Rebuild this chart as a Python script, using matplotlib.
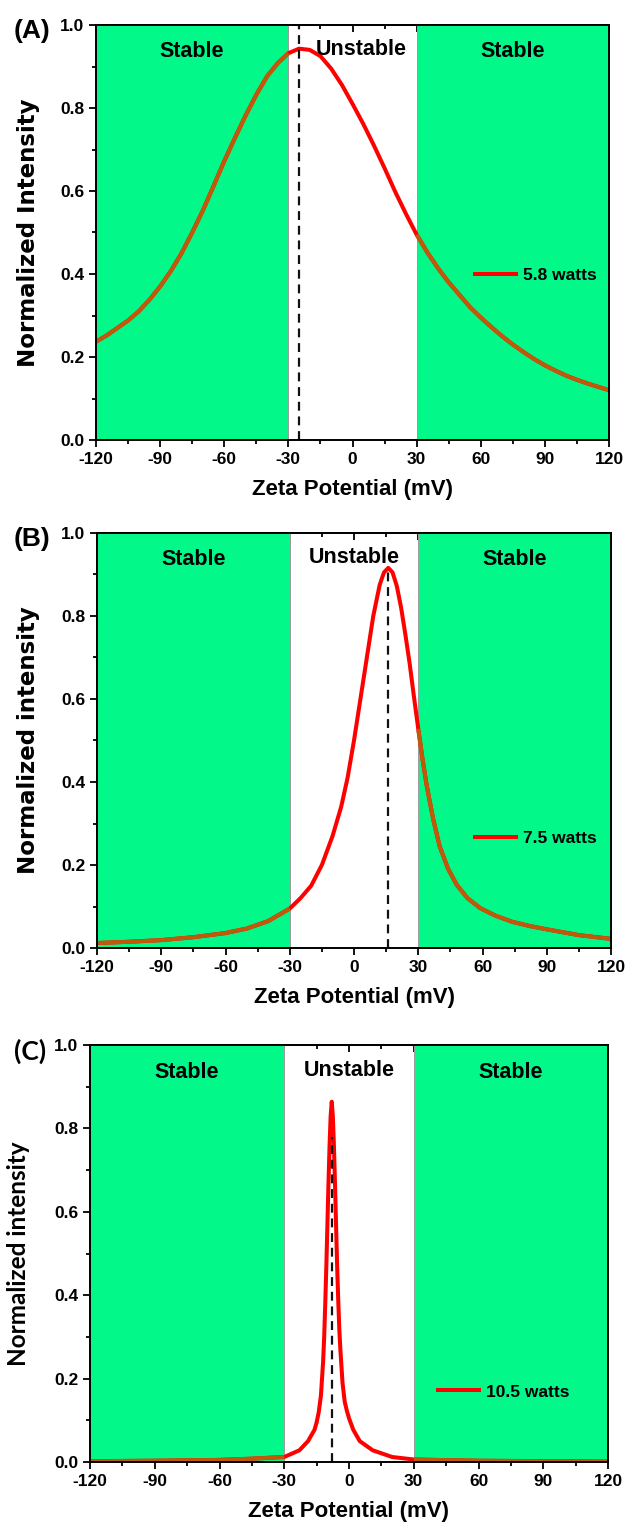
import numpy as np
import matplotlib
matplotlib.use("Agg")
import matplotlib.pyplot as plt
from matplotlib.patches import Rectangle
from matplotlib.ticker import MultipleLocator

plt.rcParams['font.family'] = ['Liberation Sans', 'DejaVu Sans']
plt.rcParams['font.weight'] = 'bold'

# ---- data ----
za_x = [-120, -115, -110, -105, -100, -95, -90, -85, -80, -75, -70, -65, -60, -55,
        -50, -45, -40, -35, -30, -25, -20, -15, -10, -5, 0, 5, 10, 15, 20, 25, 30,
        35, 40, 45, 50, 55, 60, 65, 70, 75, 80, 85, 90, 95, 100, 105, 110, 115, 120]
za_y = [0.237, 0.252, 0.27, 0.288, 0.31, 0.338, 0.37, 0.407, 0.45, 0.5, 0.553,
        0.612, 0.672, 0.728, 0.782, 0.832, 0.876, 0.908, 0.932, 0.943, 0.94, 0.925,
        0.895, 0.856, 0.81, 0.762, 0.71, 0.655, 0.598, 0.545, 0.495, 0.452, 0.414,
        0.38, 0.35, 0.32, 0.295, 0.272, 0.25, 0.23, 0.212, 0.195, 0.18, 0.167,
        0.155, 0.145, 0.136, 0.128, 0.12]

zb_x = [-120, -105, -90, -75, -60, -50, -40, -30, -25, -20, -15, -10, -6, -3, 0,
        3, 6, 9, 12, 14, 16, 18, 20, 22, 24, 26, 28, 30, 32, 34, 37, 40, 44, 48,
        53, 59, 66, 74, 82, 90, 105, 120]
zb_y = [0.012, 0.015, 0.019, 0.026, 0.036, 0.047, 0.065, 0.095, 0.12, 0.15, 0.2,
        0.27, 0.34, 0.41, 0.5, 0.6, 0.7, 0.8, 0.875, 0.905, 0.916, 0.905, 0.872,
        0.82, 0.755, 0.685, 0.605, 0.528, 0.455, 0.39, 0.31, 0.245, 0.19, 0.152,
        0.12, 0.096, 0.078, 0.063, 0.053, 0.045, 0.031, 0.022]

zc_x = [-120, -90, -60, -45, -30, -23, -19, -16, -15, -14, -13, -12, -11.5, -11,
        -10.5, -10, -9.5, -9, -8.5, -8, -7.5, -7, -6.5, -6, -5.5, -5, -4.5, -4, -3,
        -2, -1, 0, 2, 5, 11, 20, 30, 60, 90, 120]
zc_y = [0.002, 0.003, 0.005, 0.008, 0.012, 0.028, 0.05, 0.077, 0.095, 0.12, 0.16,
        0.24, 0.3, 0.38, 0.47, 0.57, 0.67, 0.76, 0.83, 0.864, 0.83, 0.76, 0.67, 0.57,
        0.47, 0.39, 0.32, 0.27, 0.19, 0.145, 0.123, 0.105, 0.077, 0.05, 0.028,
        0.012, 0.006, 0.003, 0.002, 0.001]

peaks = [-25, 16, -8]
dash_tops = [1.0, 0.91, 0.78]
powers = ['5.8 watts', '7.5 watts', '10.5 watts']
panel_tags = ['(A)', '(B)', '(C)']
ylabels = ['Normalized Intensity', 'Normalized intensity', 'Normalized intensity']
stable_lim = 30

GREEN = '#02F98A'
RED = '#FF0000'
BROWN = '#BE5A0A'

W, H = 629, 1534
fig = plt.figure(figsize=(W / 100, H / 100), dpi=100)

# axes boxes in pixels: left, top, right, bottom
boxes = [(96, 25, 609, 440), (97, 533, 611, 948), (90, 1045, 608, 1462)]
legend_pos = [(0.734, 0.396), (0.731, 0.265), (0.668, 0.168)]
label_x = [-0.11, -0.11, -0.115]
series = [(za_x, za_y), (zb_x, zb_y), (zc_x, zc_y)]
ticks_x = list(range(-120, 121, 30))
ticks_y = [0.0, 0.2, 0.4, 0.6, 0.8, 1.0]

for i, (l, t, r, b) in enumerate(boxes):
    ax = fig.add_axes([l / W, 1 - b / H, (r - l) / W, (b - t) / H])
    x = np.array(series[i][0])
    y = np.array(series[i][1])

    # shaded stable regions
    for x0, x1 in [(-120, -stable_lim), (stable_lim, 120)]:
        ax.add_patch(Rectangle((x0, 0), x1 - x0, 1, facecolor=GREEN,
                               edgecolor='#9a9a9a', lw=0.7, zorder=1))

    ax.plot(x, y, color=RED, lw=2.9, solid_capstyle='butt', zorder=3,
            label=powers[i])
    left = x <= -stable_lim
    right = x >= stable_lim
    ax.plot(x[left], y[left], color=BROWN, lw=2.9, solid_capstyle='butt', zorder=3.5)
    ax.plot(x[right], y[right], color=BROWN, lw=2.9, solid_capstyle='butt', zorder=3.5)

    ax.vlines(peaks[i], 0, dash_tops[i], colors='#111111', linestyles=(0, (4, 2.6)),
              lw=1.6, zorder=5)

    ax.text(-75, 0.935, 'Stable', ha='center', va='center', fontsize=15.5,
            fontweight='bold', zorder=6)
    ax.text(75, 0.935, 'Stable', ha='center', va='center', fontsize=15.5,
            fontweight='bold', zorder=6)
    ax.text(4 if i == 0 else 0, 0.94, 'Unstable', ha='center', va='center',
            fontsize=15.5, fontweight='bold', zorder=6)

    ax.set_xlim(-120, 120)
    ax.set_ylim(0, 1.0)
    ax.set_xticks(ticks_x)
    ax.set_xticklabels([str(v) for v in ticks_x])
    ax.set_yticks(ticks_y)
    ax.set_yticklabels(['%.1f' % v for v in ticks_y])
    ax.xaxis.set_minor_locator(MultipleLocator(15))
    ax.yaxis.set_minor_locator(MultipleLocator(0.1))
    ax.tick_params(which='both', direction='out', width=1.3, labelsize=12.5,
                   top=False, right=False)
    ax.tick_params(which='major', length=5)
    ax.tick_params(which='minor', length=3)
    for lab in ax.get_xticklabels() + ax.get_yticklabels():
        lab.set_fontweight('bold')

    # top axis: inward ticks, no labels
    top = ax.secondary_xaxis('top')
    top.set_xticks(ticks_x)
    top.xaxis.set_minor_locator(MultipleLocator(15))
    top.tick_params(which='both', direction='in', width=1.3, labeltop=False)
    top.tick_params(which='major', length=5)
    top.tick_params(which='minor', length=3)
    top.spines['top'].set_linewidth(1.4)

    for sp in ax.spines.values():
        sp.set_linewidth(1.4)
        sp.set_zorder(7)

    ax.set_xlabel('Zeta Potential (mV)', fontsize=16, fontweight='bold', labelpad=9)
    if i == 2:
        ax.set_ylabel(ylabels[i], fontsize=17.5, fontweight='bold',
                      family=['Lato', 'DejaVu Sans'])
    else:
        ax.set_ylabel(ylabels[i], fontsize=16.5, fontweight='bold',
                      family=['DejaVu Sans'])
    ax.yaxis.set_label_coords(label_x[i], 0.5)

    leg = ax.legend(loc='center left', bbox_to_anchor=legend_pos[i], frameon=False,
                    fontsize=12.5, handlelength=2.6, handletextpad=0.3,
                    borderpad=0, borderaxespad=0)
    for txt in leg.get_texts():
        txt.set_fontweight('bold')
    leg.set_zorder(8)

    tag_family = ['Lato', 'DejaVu Sans'] if i == 2 else ['Liberation Sans', 'DejaVu Sans']
    fig.text(14 / W, 1 - (t + 6) / H, panel_tags[i], fontsize=19, fontweight='bold',
             ha='left', va='center', family=tag_family)

fig.savefig('out.png', dpi=100)
